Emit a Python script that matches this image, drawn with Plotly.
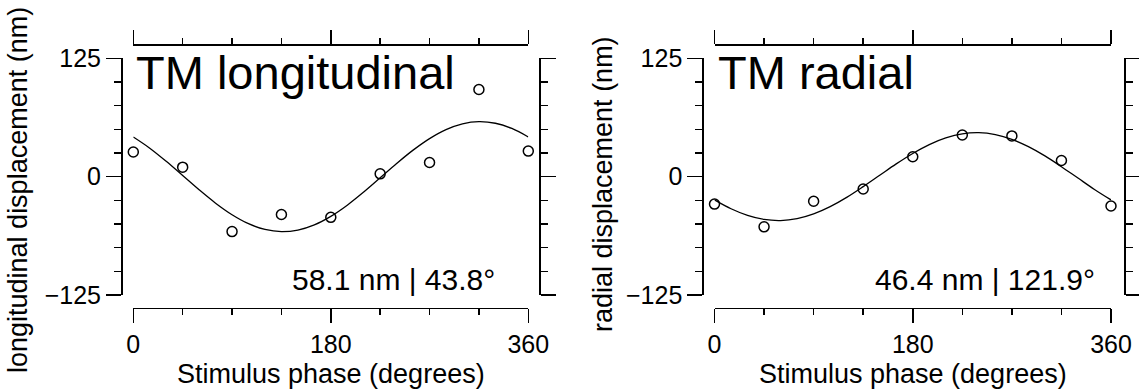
import plotly.graph_objects as go

W, H = 1139, 389

# ---------------- data ----------------
phase_deg = [0, 45, 90, 135, 180, 225, 270, 315, 360]
long_data = [26, 10, -58, -40, -43, 3, 15, 92, 27]
rad_data = [-29, -53, -26, -13, 21, 44, 43, 17, -31]

fit_phase = [0, 15, 30, 45, 60, 75, 90, 105, 120, 135, 150, 165, 180,
             195, 210, 225, 240, 255, 270, 285, 300, 315, 330, 345, 360]
long_fit = [41.9, 30.1, 16.2, 1.2, -13.9, -28.0, -40.2, -49.7, -55.8, -58.1,
            -56.4, -50.9, -41.9, -30.1, -16.2, -1.2, 13.9, 28.0, 40.2, 49.7,
            55.8, 58.1, 56.4, 50.9, 41.9]
rad_fit = [-24.5, -33.9, -40.9, -45.2, -46.4, -44.4, -39.4, -31.7, -21.9, -10.5,
           1.5, 13.5, 24.5, 33.9, 40.9, 45.2, 46.4, 44.4, 39.4, 31.7,
           21.9, 10.5, -1.5, -13.5, -24.5]

y_ticks = [-125, 0, 125]
y_ticktext = ["\u2212125", "0", "125"]
y_minor = [-100, -75, -50, -25, 25, 50, 75, 100]
x_ticks = [0, 180, 360]
x_ticktext = ["0", "180", "360"]
x_minor = [45, 90, 135, 225, 270, 315]

titles = ["TM longitudinal", "TM radial"]
fit_labels = ["58.1 nm | 43.8\u00b0", "46.4 nm | 121.9\u00b0"]
y_titles = ["longitudinal displacement (nm)", "radial displacement (nm)"]
x_title = "Stimulus phase (degrees)"

# ---------------- layout geometry (pixels) ----------------
FONT = "Liberation Sans, Arial, Helvetica, sans-serif"


def fx(x):
    return x / W


def fy(y):
    return 1 - y / H


Y_TOP, Y_BOT = 58.3, 295.0
XBOT_Y, XTOP_Y = 307.7, 44.0
panels = [
    dict(x0=133.3, x1=528.3, yl=121.0, yr=539.0, ytitle_x=18, ytitle_y=190,
         title_x=134, label_x=497),
    dict(x0=714.5, x1=1111.0, yl=702.3, yr=1124.0, ytitle_x=603, ytitle_y=184,
         title_x=716, label_x=1097),
]

fig = go.Figure()

series = [(long_data, long_fit), (rad_data, rad_fit)]
axis_ids = [("x", "y", "x2", "y2"), ("x3", "y3", "x4", "y4")]
for i, (pts, fit) in enumerate(series):
    xa, ya, xa2, ya2 = axis_ids[i]
    fig.add_trace(go.Scatter(x=fit_phase, y=fit, mode="lines", xaxis=xa, yaxis=ya,
                             line=dict(color="black", width=1.3, shape="spline"),
                             showlegend=False, hoverinfo="skip", cliponaxis=False))
    fig.add_trace(go.Scatter(x=phase_deg, y=pts, mode="markers", xaxis=xa, yaxis=ya,
                             marker=dict(symbol="circle-open", size=10, color="black",
                                         line=dict(color="black", width=1.5)),
                             showlegend=False, cliponaxis=False))
    # empty trace so the mirror (top / right) axes are drawn
    fig.add_trace(go.Scatter(x=[None], y=[None], mode="markers", xaxis=xa2, yaxis=ya2,
                             showlegend=False, hoverinfo="skip"))

LW = 1.5
tickfont = dict(family=FONT, size=25, color="black")

layout_axes = {}
for i, p in enumerate(panels):
    n = 1 if i == 0 else 3
    xb = "xaxis" if n == 1 else "xaxis3"
    xt = "xaxis2" if n == 1 else "xaxis4"
    yl = "yaxis" if n == 1 else "yaxis3"
    yr = "yaxis2" if n == 1 else "yaxis4"
    xref = "x" if n == 1 else "x3"
    yref = "y" if n == 1 else "y3"
    dom_x = [fx(p["x0"]), fx(p["x1"])]
    dom_y = [fy(Y_BOT), fy(Y_TOP)]
    common_x = dict(domain=dom_x, range=[0, 360], showgrid=False, zeroline=False,
                    showline=True, linecolor="black", linewidth=LW, automargin=False,
                    ticks="outside", tickcolor="black", tickwidth=LW, ticklen=14,
                    tickmode="array", tickvals=x_ticks, ticktext=x_ticktext,
                    minor=dict(tickmode="array", tickvals=x_minor, ticks="outside",
                               ticklen=6, tickcolor="black", tickwidth=LW),
                    tickfont=tickfont, fixedrange=True)
    common_y = dict(domain=dom_y, range=[-125, 125], showgrid=False, zeroline=False,
                    showline=True, linecolor="black", linewidth=LW, automargin=False,
                    ticks="outside", tickcolor="black", tickwidth=LW, ticklen=15,
                    tickmode="array", tickvals=y_ticks, ticktext=y_ticktext,
                    minor=dict(tickmode="array", tickvals=y_minor, ticks="outside",
                               ticklen=7, tickcolor="black", tickwidth=LW),
                    tickfont=tickfont, fixedrange=True)
    layout_axes[xb] = dict(common_x, anchor="free", position=fy(XBOT_Y), side="bottom")
    layout_axes[xt] = dict(common_x, anchor="free", position=fy(XTOP_Y), side="top",
                           overlaying=xref, showticklabels=False)
    layout_axes[yl] = dict(common_y, anchor="free", position=fx(p["yl"]), side="left")
    layout_axes[yr] = dict(common_y, anchor="free", position=fx(p["yr"]), side="right",
                           overlaying=yref, showticklabels=False)

annotations = []
for i, p in enumerate(panels):
    annotations.append(dict(text=titles[i], x=fx(p["title_x"]), y=fy(72), xref="paper",
                            yref="paper", xanchor="left", yanchor="middle",
                            showarrow=False, font=dict(family=FONT, size=47, color="black")))
    annotations.append(dict(text=fit_labels[i], x=fx(p["label_x"]), y=fy(279), xref="paper",
                            yref="paper", xanchor="right", yanchor="middle",
                            showarrow=False, font=dict(family=FONT, size=30, color="black")))
    annotations.append(dict(text=y_titles[i], x=fx(p["ytitle_x"]), y=fy(p["ytitle_y"]),
                            xref="paper", yref="paper", xanchor="center", yanchor="middle",
                            textangle=-90, showarrow=False,
                            font=dict(family=FONT, size=27, color="black")))
    annotations.append(dict(text=x_title, x=fx((p["x0"] + p["x1"]) / 2), y=fy(374),
                            xref="paper", yref="paper", xanchor="center", yanchor="middle",
                            showarrow=False, font=dict(family=FONT, size=27, color="black")))

fig.update_layout(width=W, height=H, margin=dict(l=0, r=0, t=0, b=0, pad=0),
                  template="none",
                  paper_bgcolor="white", plot_bgcolor="white",
                  font=dict(family=FONT, color="black"),
                  annotations=annotations, showlegend=False, **layout_axes)

fig.write_html("out.html", config=dict(displayModeBar=False, staticPlot=True))
